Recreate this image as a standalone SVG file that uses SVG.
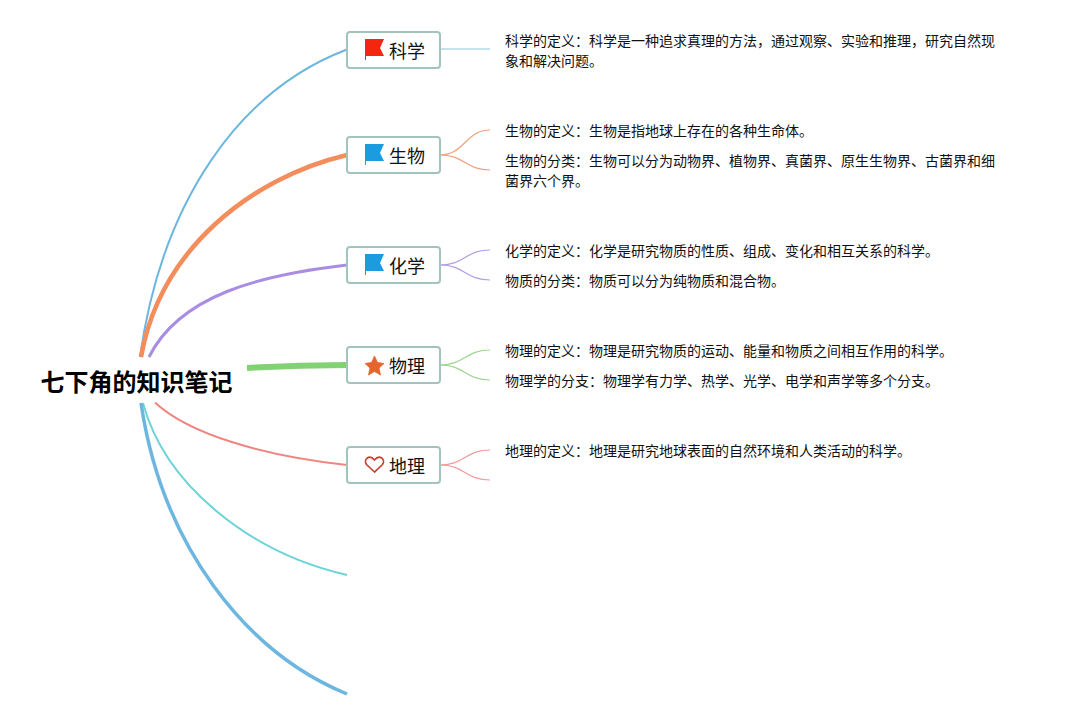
<svg xmlns="http://www.w3.org/2000/svg" width="1065" height="720" viewBox="0 0 1065 720">
<style>
text{font-family:"Noto Sans CJK SC","Noto Sans",sans-serif;fill:#111}
.n{fill:#fff;stroke:#a3c4bc;stroke-width:2}
.l{font-size:18px}
.t{font-size:14px}
.r{font-size:24px;font-weight:700;fill:#000}
.b{fill:none;stroke-width:1.2}
</style>
<rect width="1065" height="720" fill="#fff"/>
<g id="connectors">
<path d="M140 357C162 200 240 90 347 49.500" stroke="#6cb6e0" stroke-width="2" fill="none"/>
<path d="M141 357C160 250 250 178 347 155" stroke="#f48d5c" stroke-width="4.500" fill="none"/>
<path d="M149 357C180 295 260 275 347 265" stroke="#a88de2" stroke-width="3" fill="none"/>
<path d="M247 368C280 366 310 365 347 365" stroke="#82d173" stroke-width="6" fill="none"/>
<path d="M155 402.500C190 435 265 456 347 465" stroke="#ee8580" stroke-width="2" fill="none"/>
<path d="M143 403C165 485 250 553 347 575" stroke="#6cd3d8" stroke-width="2" fill="none"/>
<path d="M141 403C162 545 245 652 347 694" stroke="#6cb6e0" stroke-width="3.500" fill="none"/>
<path d="M440 49H490" stroke="#b5d8ea" stroke-width="1.500" fill="none"/>
<g class="b" stroke="#f2a07c"><path d="M440 155C465 155 465 130 490 130"/><path d="M440 155C465 155 465 170 490 170"/></g>
<g class="b" stroke="#b39ee4"><path d="M440 265C465 265 465 250 490 250"/><path d="M440 265C465 265 465 280 490 280"/></g>
<g class="b" stroke="#9dd692"><path d="M440 365C465 365 465 350 490 350"/><path d="M440 365C465 365 465 380 490 380"/></g>
<g class="b" stroke="#f09c9c"><path d="M440 465C465 465 465 450 490 450"/><path d="M440 465C465 465 465 480 490 480"/></g>
</g>
<g id="root"><text class="r" x="136.500" y="391" text-anchor="middle">七下角的知识笔记</text></g>
<g id="node-science"><rect class="n" x="347" y="32" width="93" height="36" rx="3"/>
<path d="M365 39H384L380 48L384 56H366V60H365Z" fill="#f5260f"/>
<text class="l" x="389" y="58">科学</text></g>
<g id="node-biology"><rect class="n" x="347" y="137" width="93" height="36" rx="3"/>
<path d="M365 144H384L380 153L384 161H366V165H365Z" fill="#1b9be0"/>
<text class="l" x="389" y="163">生物</text></g>
<g id="node-chemistry"><rect class="n" x="347" y="247" width="93" height="36" rx="3"/>
<path d="M365 254H384L380 263L384 271H366V275H365Z" fill="#1b9be0"/>
<text class="l" x="389" y="273">化学</text></g>
<g id="node-physics"><rect class="n" x="347" y="347" width="93" height="36" rx="3"/>
<path d="M374.500 356L377.500 362.500L384 363.500L379 368L380.500 375L374.500 371.500L368.500 375L370 368L365 363.500L371.500 362.500Z" fill="#e5652e" stroke="#e5652e" stroke-width="0.800" stroke-linejoin="round"/>
<text class="l" x="389" y="373">物理</text></g>
<g id="node-geography"><rect class="n" x="347" y="447" width="93" height="36" rx="3"/>
<path d="M374.500 472L366.500 464.500C363 459 369.500 454 374.500 460C379.500 454 386 459 382.500 464.500Z" fill="none" stroke="#c8402f" stroke-width="1.700"/>
<text class="l" x="389" y="473">地理</text></g>
<g id="notes">
<text class="t" x="505" y="46">科学的定义：科学是一种追求真理的方法，通过观察、实验和推理，研究自然现</text>
<text class="t" x="505" y="66">象和解决问题。</text>
<text class="t" x="505" y="136">生物的定义：生物是指地球上存在的各种生命体。</text>
<text class="t" x="505" y="166">生物的分类：生物可以分为动物界、植物界、真菌界、原生生物界、古菌界和细</text>
<text class="t" x="505" y="186">菌界六个界。</text>
<text class="t" x="505" y="256">化学的定义：化学是研究物质的性质、组成、变化和相互关系的科学。</text>
<text class="t" x="505" y="286">物质的分类：物质可以分为纯物质和混合物。</text>
<text class="t" x="505" y="356">物理的定义：物理是研究物质的运动、能量和物质之间相互作用的科学。</text>
<text class="t" x="505" y="386">物理学的分支：物理学有力学、热学、光学、电学和声学等多个分支。</text>
<text class="t" x="505" y="456">地理的定义：地理是研究地球表面的自然环境和人类活动的科学。</text>
</g>
</svg>
